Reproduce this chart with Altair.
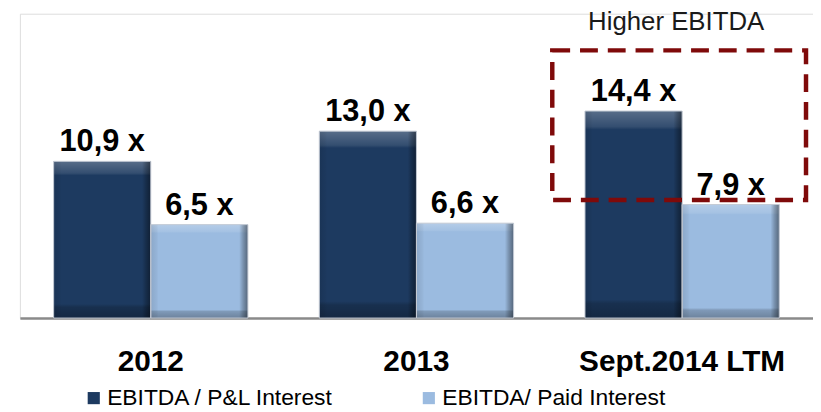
import altair as alt
import pandas as pd

categories = ["2012", "2013", "Sept.2014 LTM"]
series = ["EBITDA / P&L Interest", "EBITDA/ Paid Interest"]
pl_interest = [10.9, 13.0, 14.4]
paid_interest = [6.5, 6.6, 7.9]
colors = ["#1d3a60", "#9bbbe0"]

annotation_text = "Higher EBITDA"
annotation_cat = "Sept.2014 LTM"
annotation_y = 20.07
box_top = 18.62
box_bottom = 8.21

rows = []
for i, c in enumerate(categories):
    for s, vals in zip(series, [pl_interest, paid_interest]):
        v = vals[i]
        rows.append({"cat": c, "series": s, "value": v,
                     "label": f"{v:.1f}".replace(".", ",") + " x"})
df = pd.DataFrame(rows)

ann = pd.DataFrame([{"cat": annotation_cat, "y": annotation_y, "text": annotation_text,
                     "top": box_top, "bottom": box_bottom}])

FONT = "Liberation Sans"
YMAX = 21.17

x_enc = alt.X("cat:N", sort=categories,
              scale=alt.Scale(domain=categories, paddingInner=0.2687, paddingOuter=0.127),
              axis=alt.Axis(title=None, ticks=False, tickSize=0, labelAngle=0,
                            labelFont=FONT, labelFontSize=30, labelFontWeight="bold",
                            labelColor="#000000", labelPadding=29, labelLimit=400,
                            domainColor="#8a8a8a", domainWidth=2.5, grid=False))
xo_enc = alt.XOffset("series:N", scale=alt.Scale(domain=series, paddingInner=0, paddingOuter=0))
y_enc = alt.Y("value:Q", scale=alt.Scale(domain=[0, YMAX], nice=False, zero=True), axis=None)

base = alt.Chart(df)

bars = base.mark_bar().encode(
    x=x_enc, xOffset=xo_enc, y=y_enc,
    color=alt.Color("series:N", scale=alt.Scale(domain=series, range=colors),
                    legend=alt.Legend(title=None, orient="none", legendX=63, legendY=376,
                                      direction="horizontal", symbolType="square",
                                      symbolSize=150, symbolStrokeWidth=0,
                                      labelFont=FONT, labelFontSize=23, labelColor="#000000",
                                      labelOffset=2, columnPadding=84, padding=0,
                                      labelLimit=400))
)

vgrad = alt.Gradient(gradient="linear", x1=0, x2=0, y1=0, y2=1, stops=[
    alt.GradientStop(color="rgba(255,255,255,0.26)", offset=0),
    alt.GradientStop(color="rgba(255,255,255,0.10)", offset=0.075),
    alt.GradientStop(color="rgba(255,255,255,0)", offset=0.09),
    alt.GradientStop(color="rgba(0,0,0,0)", offset=0.91),
    alt.GradientStop(color="rgba(0,0,0,0.18)", offset=0.93),
    alt.GradientStop(color="rgba(0,0,0,0.3)", offset=1),
])
hgrad = alt.Gradient(gradient="linear", x1=0, x2=1, y1=0, y2=0, stops=[
    alt.GradientStop(color="rgba(0,0,0,0.10)", offset=0),
    alt.GradientStop(color="rgba(0,0,0,0.04)", offset=0.06),
    alt.GradientStop(color="rgba(0,0,0,0)", offset=0.08),
    alt.GradientStop(color="rgba(0,0,0,0)", offset=0.91),
    alt.GradientStop(color="rgba(0,0,0,0.22)", offset=0.95),
    alt.GradientStop(color="rgba(0,0,0,0.45)", offset=1),
])

bevel_v = base.mark_bar(color=vgrad).encode(x=x_enc, xOffset=xo_enc, y=y_enc)
bevel_h = base.mark_bar(color=hgrad, stroke="#c4cad4", strokeWidth=1).encode(
    x=x_enc, xOffset=xo_enc, y=y_enc)

labels = base.mark_text(dy=-10, baseline="alphabetic", font=FONT, fontSize=31,
                        fontWeight="bold", color="#000000").encode(
    x=x_enc, xOffset=xo_enc, y=y_enc, text="label:N")

ann_base = alt.Chart(ann)
box = ann_base.mark_bar(filled=False, fill=None, stroke="#7f0a0a", strokeWidth=4.5,
                        strokeDash=[18, 10], width=alt.RelativeBandSize(1.306),
                        xOffset=-3).encode(
    x=alt.X("cat:N", sort=categories),
    y=alt.Y("top:Q"), y2="bottom:Q")
ann_text = ann_base.mark_text(baseline="alphabetic", dx=-6, font=FONT, fontSize=26,
                              color="#1a1a1a").encode(
    x=alt.X("cat:N", sort=categories), y=alt.Y("y:Q"), text="text:N")

chart = alt.layer(bars, bevel_v, bevel_h, labels, box, ann_text).properties(
    width=800, height=307,
    autosize=alt.AutoSizeParams(type="none"),
    padding={"left": 12, "top": 4, "right": 0, "bottom": 93},
).configure_view(stroke=None).configure(background="white")

chart.save("out.html", embed_options={"renderer": "svg", "actions": False})
